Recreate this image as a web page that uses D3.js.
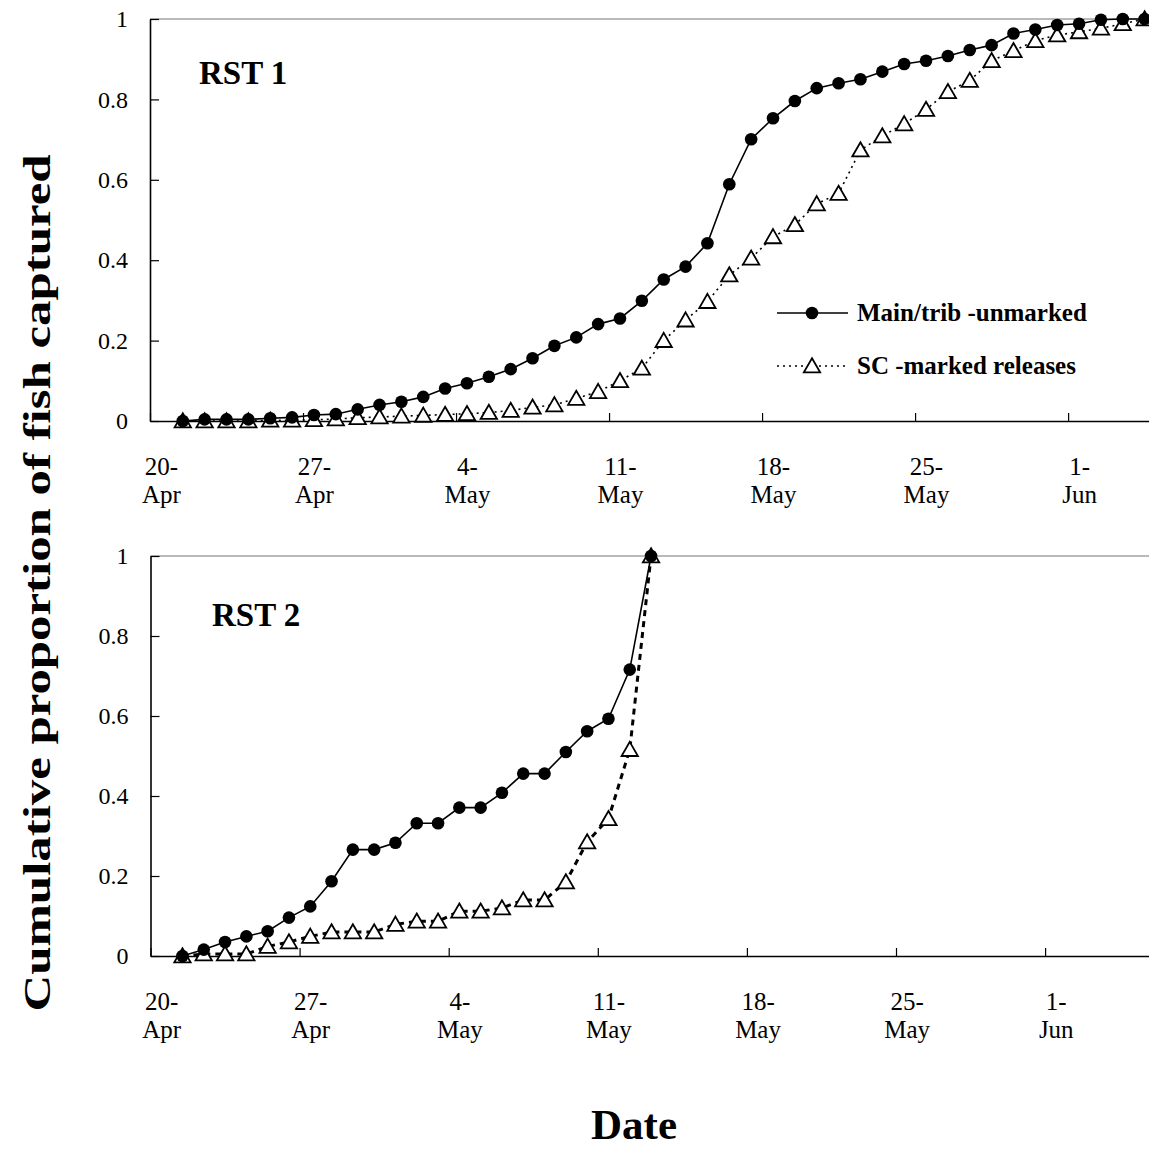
<!DOCTYPE html>
<html lang="en">
<head>
<meta charset="utf-8">
<title>Cumulative proportion of fish captured</title>
<style>
  body { margin: 0; background: #fff; }
  svg { display: block; font-family: "Times New Roman", "Liberation Serif", serif; }
</style>
</head>
<body>
<svg width="1149" height="1150"></svg>
<script src="https://cdn.jsdelivr.net/npm/d3@7"></script>
<script>
// daily values start on 21-Apr (year not shown on the chart)
const firstDay = '21-Apr';
const tickDays = ['20-Apr', '27-Apr', '4-May', '11-May', '18-May', '25-May', '1-Jun'];
const yTicks = [0, 0.2, 0.4, 0.6, 0.8, 1];
const seriesNames = ['Main/trib -unmarked', 'SC -marked releases'];

// RST 1, 21-Apr .. 4-Jun
const rst1Main = [0, 0.004, 0.004, 0.004, 0.007, 0.009, 0.015, 0.017, 0.029, 0.04,
  0.048, 0.06, 0.081, 0.094, 0.11, 0.129, 0.156, 0.187, 0.208, 0.241,
  0.255, 0.299, 0.352, 0.384, 0.442, 0.589, 0.701, 0.753, 0.796, 0.828,
  0.84, 0.85, 0.869, 0.888, 0.896, 0.908, 0.923, 0.935, 0.964, 0.974,
  0.985, 0.988, 0.998, 1, 1];
const rst1SC = [0, 0, 0, 0, 0.002, 0.002, 0.003, 0.005, 0.008, 0.01,
  0.012, 0.014, 0.016, 0.018, 0.021, 0.026, 0.034, 0.04, 0.056, 0.073,
  0.1, 0.131, 0.2, 0.251, 0.297, 0.363, 0.405, 0.458, 0.488, 0.54,
  0.566, 0.674, 0.709, 0.739, 0.775, 0.819, 0.847, 0.896, 0.921, 0.946,
  0.96, 0.968, 0.977, 0.988, 1];

// RST 2, 21-Apr .. 13-May
const rst2Main = [0, 0.016, 0.035, 0.049, 0.062, 0.096, 0.124, 0.187, 0.266, 0.266,
  0.283, 0.332, 0.332, 0.371, 0.371, 0.408, 0.456, 0.456, 0.51, 0.562,
  0.593, 0.716, 1];
const rst2SC = [0, 0.005, 0.005, 0.005, 0.024, 0.035, 0.049, 0.06, 0.06, 0.06,
  0.079, 0.087, 0.087, 0.112, 0.112, 0.12, 0.14, 0.14, 0.185, 0.285,
  0.343, 0.516, 1];

const svg = d3.select('svg');
const parseDay = d3.utcParse('%d-%b-%Y');
const toDate = s => parseDay(s + '-2003');
const day0 = toDate(firstDay);

const to_points = arr => arr.map((v, i) => ({date: d3.utcDay.offset(day0, i), v: v}));

const panels = [
  {label: 'RST 1', main: rst1Main, sc: rst1SC, top: 19, bottom: 421, left: 150,
   dayPx: 21.86, span: 46, scDash: '2,4', scWidth: 1.6, labelX: 199, labelY: 84, legend: true},
  {label: 'RST 2', main: rst2Main, sc: rst2SC, top: 556, bottom: 956, left: 150.5,
   dayPx: 21.3, span: 47, scDash: '6,5', scWidth: 3, labelX: 212, labelY: 626, legend: false}
];

const triH = 10;
const triangle = d3.symbol().type(d3.symbolTriangle).size(triH * triH * 2 / Math.sqrt(3));

function draw_markers(g, pts, x_scale, y_scale, kind) {
  if (kind === 'circle') {
    g.selectAll('circle').data(pts).enter().append('circle')
      .attr('cx', d => x_scale(d.date))
      .attr('cy', d => y_scale(d.v))
      .attr('r', 6.3)
      .attr('fill', '#000');
  } else {
    g.selectAll('path').data(pts).enter().append('path')
      .attr('d', triangle)
      .attr('transform', d => `translate(${x_scale(d.date)},${y_scale(d.v) + triH / 6})`)
      .attr('fill', '#fff')
      .attr('stroke', '#000')
      .attr('stroke-width', 1.8);
  }
}

panels.forEach(p => {
  const start = d3.utcHour.offset(toDate(tickDays[0]), -12);
  const x_scale = d3.scaleUtc()
    .domain([start, d3.utcDay.offset(start, p.span)])
    .range([p.left, p.left + p.span * p.dayPx]);
  const y_scale = d3.scaleLinear().domain([0, 1]).range([p.bottom, p.top]);

  const g = svg.append('g');

  // plot area top border
  g.append('line')
    .attr('x1', p.left).attr('x2', 1149)
    .attr('y1', y_scale(1)).attr('y2', y_scale(1))
    .attr('stroke', '#777').attr('stroke-width', 1.2);

  // x tick marks sit on day boundaries
  const x_marks = d3.axisBottom(x_scale)
    .tickValues(tickDays.map(s => d3.utcHour.offset(toDate(s), -12)))
    .tickSizeInner(-8).tickSizeOuter(0).tickFormat('');
  const xg = g.append('g')
    .attr('transform', `translate(0,${p.bottom})`)
    .call(x_marks);
  xg.select('.domain').attr('stroke', '#000').attr('stroke-width', 1.6);
  xg.selectAll('.tick line').attr('stroke', '#000').attr('stroke-width', 1.2);

  // x labels centred on the day
  const x_labels = d3.axisBottom(x_scale)
    .tickValues(tickDays.map(toDate))
    .tickSize(0).tickPadding(0);
  const xl = g.append('g')
    .attr('transform', `translate(0,${p.bottom})`)
    .call(x_labels)
    .attr('font-family', null)
    .attr('font-size', null);
  xl.select('.domain').remove();
  xl.selectAll('.tick text')
    .style('font-size', '25px')
    .attr('fill', '#000')
    .attr('dy', null)
    .attr('y', null)
    .each(function(d, i) {
      const parts = tickDays[i].split('-');
      const t = d3.select(this).text('');
      t.append('tspan').attr('x', 0).attr('y', 54).text(parts[0] + '-');
      t.append('tspan').attr('x', 0).attr('y', 82).text(parts[1]);
    });

  // y axis
  const y_axis = d3.axisLeft(y_scale)
    .tickValues(yTicks)
    .tickFormat(d3.format('~g'))
    .tickSizeInner(-9).tickSizeOuter(0).tickPadding(22);
  const yg = g.append('g')
    .attr('transform', `translate(${p.left},0)`)
    .call(y_axis)
    .attr('font-family', null)
    .attr('font-size', null);
  yg.select('.domain').attr('stroke', '#000').attr('stroke-width', 1.6);
  yg.selectAll('.tick line').attr('stroke', '#000').attr('stroke-width', 1.2);
  yg.selectAll('.tick text')
    .style('font-size', '24px')
    .attr('fill', '#000');

  // series
  const line_gen = d3.line().x(d => x_scale(d.date)).y(d => y_scale(d.v));
  const mainPts = to_points(p.main);
  const scPts = to_points(p.sc);

  g.append('path').datum(scPts)
    .attr('d', line_gen)
    .attr('fill', 'none')
    .attr('stroke', '#000')
    .attr('stroke-width', p.scWidth)
    .attr('stroke-dasharray', p.scDash);
  g.append('path').datum(mainPts)
    .attr('d', line_gen)
    .attr('fill', 'none')
    .attr('stroke', '#000')
    .attr('stroke-width', 1.6);

  draw_markers(g.append('g'), scPts, x_scale, y_scale, 'triangle');
  draw_markers(g.append('g'), mainPts, x_scale, y_scale, 'circle');

  g.append('text')
    .attr('x', p.labelX).attr('y', p.labelY)
    .style('font-size', '33px').style('font-weight', 'bold')
    .text(p.label);

  if (p.legend) {
    const lg = g.append('g');
    const rows = [{y: 313, dash: null, kind: 'circle'}, {y: 366, dash: '2,4', kind: 'triangle'}];
    rows.forEach((r, i) => {
      lg.append('line')
        .attr('x1', 777).attr('x2', 848).attr('y1', r.y).attr('y2', r.y)
        .attr('stroke', '#000').attr('stroke-width', 1.6)
        .attr('stroke-dasharray', r.dash);
      const ld = [{date: 0, v: 0}];
      draw_markers(lg.append('g'), ld, () => 812, () => r.y, r.kind);
      lg.append('text')
        .attr('x', 857).attr('y', r.y + 8)
        .style('font-size', '25px').style('font-weight', 'bold')
        .text(seriesNames[i]);
    });
  }
});

// axis titles
svg.append('text')
  .attr('transform', 'translate(50,583) rotate(-90)')
  .attr('text-anchor', 'middle')
  .attr('textLength', 857)
  .attr('lengthAdjust', 'spacingAndGlyphs')
  .style('font-size', '37px').style('font-weight', 'bold')
  .text('Cumulative proportion of fish captured');

svg.append('text')
  .attr('x', 634).attr('y', 1139)
  .attr('text-anchor', 'middle')
  .style('font-size', '43px').style('font-weight', 'bold')
  .text('Date');
</script>
</body>
</html>
